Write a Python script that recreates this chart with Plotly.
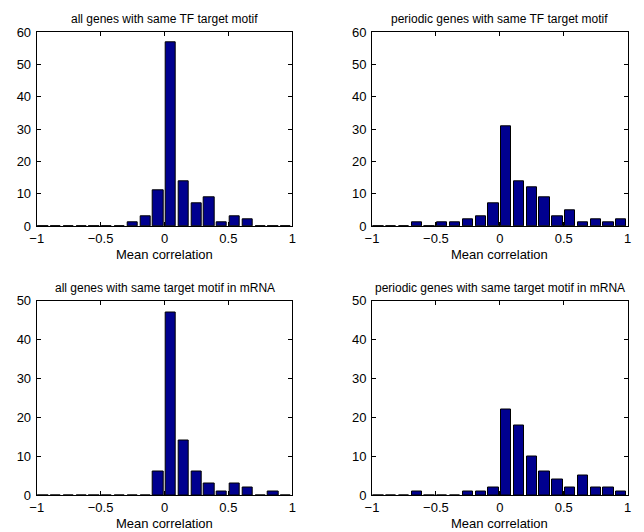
import plotly.graph_objects as go

centers = [-0.95, -0.85, -0.75, -0.65, -0.55, -0.45, -0.35, -0.25, -0.15, -0.05,
           0.05, 0.15, 0.25, 0.35, 0.45, 0.55, 0.65, 0.75, 0.85, 0.95]

all_tf = [0, 0, 0, 0, 0, 0, 0, 1, 3, 11, 57, 14, 7, 9, 1, 3, 2, 0, 0, 0]
periodic_tf = [0, 0, 0, 1, 0, 1, 1, 2, 3, 7, 31, 14, 12, 9, 3, 5, 1, 2, 1, 2]
all_mrna = [0, 0, 0, 0, 0, 0, 0, 0, 0, 6, 47, 14, 6, 3, 1, 3, 2, 0, 1, 0]
periodic_mrna = [0, 0, 0, 1, 0, 0, 0, 1, 1, 2, 22, 18, 10, 6, 4, 2, 5, 2, 2, 1]

titles = ["all genes with same TF target motif",
          "periodic genes with same TF target motif",
          "all genes with same target motif in mRNA",
          "periodic genes with same target motif in mRNA"]
series = [all_tf, periodic_tf, all_mrna, periodic_mrna]
ymax = [60, 60, 50, 50]
xlabel = "Mean correlation"
xticks = [-1, -0.5, 0, 0.5, 1]
xticklabels = ["\u22121", "\u22120.5", "0", "0.5", "1"]

W, H = 644, 532
xdom = [[36.7 / W, 292.3 / W], [372 / W, 627.7 / W]]
ydom = [[1 - 226 / H, 1 - 32.3 / H], [1 - 495.3 / H, 1 - 300.5 / H]]

font = "Liberation Sans, Arial, Helvetica, sans-serif"
fig = go.Figure()
annotations = []
for i in range(4):
    r, c = divmod(i, 2)
    ax = "" if i == 0 else str(i + 1)
    fig.add_trace(go.Bar(
        x=centers, y=series[i], width=0.08,
        marker=dict(color="#00008f", line=dict(color="black", width=1)),
        xaxis="x" + ax, yaxis="y" + ax, showlegend=False,
    ))
    common = dict(showline=True, linecolor="black", linewidth=1, mirror="allticks",
                  ticks="inside", ticklen=4, tickcolor="black", showgrid=False,
                  zeroline=False, automargin=False,
                  tickfont=dict(family=font, size=13, color="black"))
    fig.update_layout(**{
        "xaxis" + ax: dict(domain=xdom[c], range=[-1, 1], tickvals=xticks,
                           ticktext=xticklabels, anchor="y" + ax, **common),
        "yaxis" + ax: dict(domain=ydom[r], range=[0, ymax[i]], dtick=10,
                           anchor="x" + ax, ticklabelstandoff=2, **common),
    })
    xc = (xdom[c][0] + xdom[c][1]) / 2
    annotations.append(dict(text=titles[i], x=xc, y=ydom[r][1], xref="paper", yref="paper",
                            xanchor="center", yanchor="middle", yshift=13, showarrow=False,
                            font=dict(family=font, size=12, color="black")))
    annotations.append(dict(text=xlabel, x=xc, y=ydom[r][0], xref="paper", yref="paper",
                            xanchor="center", yanchor="middle", yshift=-28, showarrow=False,
                            font=dict(family=font, size=13, color="black")))

fig.update_layout(width=W, height=H, margin=dict(l=0, r=0, t=0, b=0),
                  paper_bgcolor="white", plot_bgcolor="white", bargap=0,
                  annotations=annotations)
fig.write_html("out.html", config={"displayModeBar": False},
               post_script="document.body.style.margin='0';")
